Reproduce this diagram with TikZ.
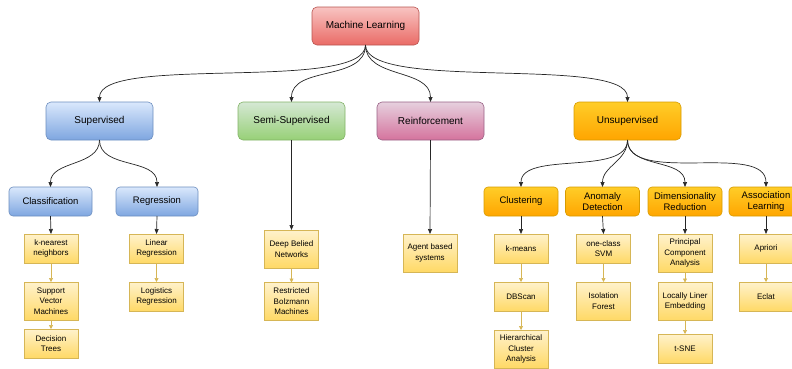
\documentclass[tikz,border=0pt]{standalone}
\usepackage{fontspec}
\setmainfont{Liberation Sans}
\usetikzlibrary{arrows.meta}
\definecolor{redT}{HTML}{F8C4C2}\definecolor{redB}{HTML}{EA6B66}\definecolor{redS}{HTML}{B85450}
\definecolor{bluT}{HTML}{DAE8FC}\definecolor{bluB}{HTML}{7EA6E0}\definecolor{bluS}{HTML}{6C8EBF}
\definecolor{grnT}{HTML}{D5E8D4}\definecolor{grnB}{HTML}{97D077}\definecolor{grnS}{HTML}{82B366}
\definecolor{purT}{HTML}{E6D0DE}\definecolor{purB}{HTML}{D5739D}\definecolor{purS}{HTML}{996185}
\definecolor{orgT}{HTML}{FFCD28}\definecolor{orgB}{HTML}{FFA500}\definecolor{orgS}{HTML}{D79B00}
\definecolor{yelT}{HTML}{FFF2CC}\definecolor{yelB}{HTML}{FFD966}\definecolor{yelS}{HTML}{D6B656}
\tikzset{
  x=1pt,y=-1pt,
  base/.style={draw, inner sep=0pt, outer sep=0pt, align=center, line width=0.6pt},
  topbox/.style={base, rounded corners=5pt, minimum width=107pt, minimum height=38pt,
     font=\fontsize{10}{12}\selectfont},
  midbox/.style={base, rounded corners=4pt, minimum height=29pt,
     font=\fontsize{9.5}{11.5}\selectfont},
  leaf/.style={base, draw=yelS, top color=yelT, bottom color=yelB, minimum width=54pt,
     font=\fontsize{8}{10.5}\selectfont},
  redfill/.style={draw=redS, top color=redT, bottom color=redB},
  blufill/.style={draw=bluS, top color=bluT, bottom color=bluB},
  grnfill/.style={draw=grnS, top color=grnT, bottom color=grnB},
  purfill/.style={draw=purS, top color=purT, bottom color=purB},
  orgfill/.style={draw=orgS, top color=orgT, bottom color=orgB},
  conn/.style={draw=black!85, line width=0.7pt, -{Triangle[length=5pt,width=4pt]}},
  lconn/.style={draw=yelS, line width=0.7pt, -{Triangle[length=4pt,width=4pt]}},
  curv/.style={conn, out=-90, in=90},
  topcurv/.style={conn, out=-90, in=90, looseness=0.45},
}
\begin{document}
\begin{tikzpicture}
\useasboundingbox (0,0) rectangle (792,368);
% top
\node[topbox, redfill] (ml) at (365.5,26) {Machine Learning};
\node[topbox, blufill] (sup) at (99.5,121) {Supervised};
\node[topbox, grnfill] (semi) at (291.5,121) {Semi-Supervised};
\node[topbox, purfill] (rein) at (430.5,121) {Reinforcement};
\node[topbox, orgfill] (unsup) at (627.5,121) {Unsupervised};
% level 2
\node[midbox, blufill, minimum width=83pt] (cls) at (50.5,201.5) {Classification};
\node[midbox, blufill, minimum width=82pt] (reg) at (157,201.5) {Regression};
\node[midbox, orgfill, minimum width=74pt] (clu) at (521,201.5) {Clustering};
\node[midbox, orgfill, minimum width=74pt] (ano) at (602.5,201.5) {Anomaly\\Detection};
\node[midbox, orgfill, minimum width=74pt] (dim) at (685,201.5) {Dimensionality\\Reduction};
\node[midbox, orgfill, minimum width=74pt] (ass) at (766,201.5) {Association\\Learning};
% leaves
\node[leaf, minimum height=29pt] (knn) at (51,248.5) {k-nearest\\neighbors};
\node[leaf, minimum height=38pt] (svm) at (51,301) {Support\\Vector\\Machines};
\node[leaf, minimum height=29pt] (dt) at (51,343.5) {Decision\\Trees};
\node[leaf, minimum height=29pt] (lin) at (156.5,248.5) {Linear\\Regression};
\node[leaf, minimum height=29pt] (log) at (156.5,296.5) {Logistics\\Regression};
\node[leaf, minimum height=38pt] (dbn) at (291.5,249) {Deep Belied\\Networks};
\node[leaf, minimum height=38pt] (rbm) at (291.5,301.5) {Restricted\\Bolzmann\\Machines};
\node[leaf, minimum height=38pt] (agent) at (430,253) {Agent based\\systems};
\node[leaf, minimum height=29pt] (km) at (521,248.5) {k-means};
\node[leaf, minimum height=29pt] (dbs) at (521,296.5) {DBScan};
\node[leaf, minimum height=38pt] (hca) at (521,349) {Hierarchical\\Cluster\\Analysis};
\node[leaf, minimum height=29pt] (ocs) at (603.5,248.5) {one-class\\SVM};
\node[leaf, minimum height=38pt] (iso) at (603.5,301) {Isolation\\Forest};
\node[leaf, minimum height=38pt] (pca) at (685,253) {Principal\\Component\\Analysis};
\node[leaf, minimum height=38pt] (lle) at (685,301.5) {Locally Liner\\Embedding};
\node[leaf, minimum height=29pt] (tsne) at (685,348.5) {t-SNE};
\node[leaf, minimum height=29pt] (apr) at (766,248.5) {Apriori};
\node[leaf, minimum height=29pt] (ecl) at (766,296.5) {Eclat};
% connectors top
\draw[topcurv] (ml.south) to (sup.north);
\draw[curv] (ml.south) to (semi.north);
\draw[curv] (ml.south) to (rein.north);
\draw[topcurv] (ml.south) to (unsup.north);
\draw[curv] (sup.south) to (cls.north);
\draw[curv] (sup.south) to (reg.north);
\draw[curv, looseness=0.8] (unsup.south) to (clu.north);
\draw[curv] (unsup.south) to (ano.north);
\draw[curv] (unsup.south) to (dim.north);
\draw[curv, looseness=0.8] (unsup.south) to (ass.north);
\draw[conn] (semi.south) -- (dbn.north);
\draw[conn] (rein.south) -- (agent.north);
\draw[conn] (cls.south) -- (knn.north);
\draw[conn] (reg.south) -- (lin.north);
\draw[conn] (clu.south) -- (km.north);
\draw[conn] (ano.south) -- (ocs.north);
\draw[conn] (dim.south) -- (pca.north);
\draw[conn] (ass.south) -- (apr.north);
% leaf chains
\draw[lconn] (knn.south) -- (svm.north);
\draw[lconn] (svm.south) -- (dt.north);
\draw[lconn] (lin.south) -- (log.north);
\draw[lconn] (dbn.south) -- (rbm.north);
\draw[lconn] (km.south) -- (dbs.north);
\draw[lconn] (dbs.south) -- (hca.north);
\draw[lconn] (ocs.south) -- (iso.north);
\draw[lconn] (pca.south) -- (lle.north);
\draw[lconn] (lle.south) -- (tsne.north);
\draw[lconn] (apr.south) -- (ecl.north);
\end{tikzpicture}
\end{document}
